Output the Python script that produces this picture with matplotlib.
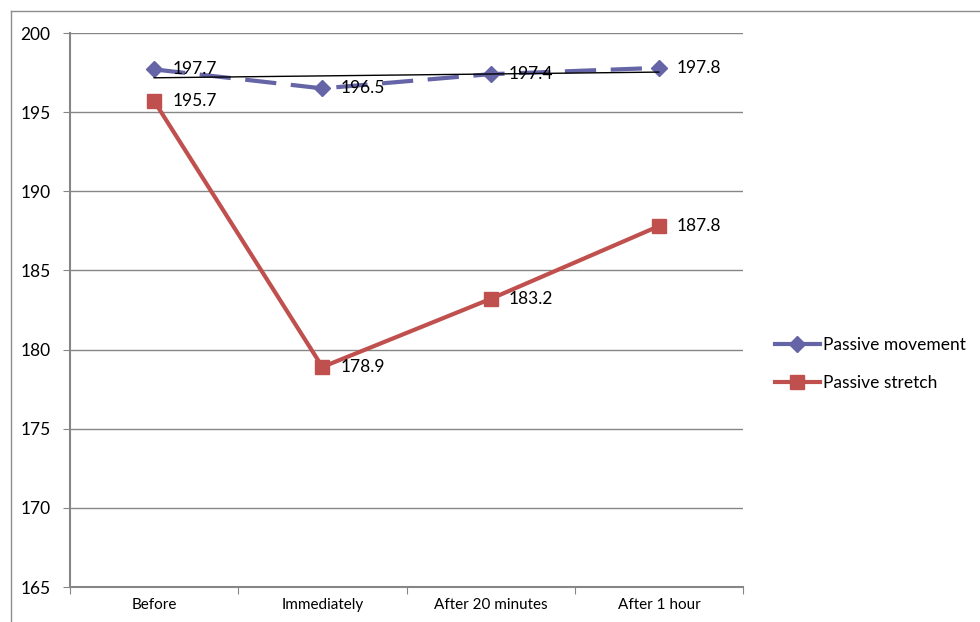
import numpy as np
import matplotlib
matplotlib.use("Agg")
import matplotlib.pyplot as plt
from matplotlib.lines import Line2D

plt.rcParams['font.family'] = ['Lato', 'DejaVu Sans']

categories = ["Before", "Immediately", "After 20 minutes", "After 1 hour"]
passive_movement = [197.7, 196.5, 197.4, 197.8]
passive_stretch = [195.7, 178.9, 183.2, 187.8]
y_ticks = [165, 170, 175, 180, 185, 190, 195, 200]

grid_col = "#868686"
move_col = "#6464A6"
stretch_col = "#C0504D"

fig = plt.figure(figsize=(9.8, 6.22), dpi=100)
ax = fig.add_axes([70 / 980, 1 - 587 / 622, (743 - 70) / 980, (587 - 33) / 622])

x = np.arange(len(categories))

ax.plot(x, passive_movement, color=move_col, lw=3, dashes=(7.5, 3.5),
        marker='D', markersize=8, markeredgecolor=move_col, zorder=3,
        label="Passive movement")
ax.plot(x, passive_stretch, color=stretch_col, lw=3,
        marker='s', markersize=10, markeredgecolor=stretch_col, zorder=3,
        label="Passive stretch")

# linear trend of the passive movement series
coef = np.polyfit(x, passive_movement, 1)
ax.plot(x, np.polyval(coef, x), color="black", lw=1, zorder=4)

for xi, v in zip(x, passive_movement):
    ax.annotate(f"{v:.1f}", (xi, v), xytext=(13, 0), textcoords="offset points",
                va="center", ha="left", fontsize=12.5, zorder=5)
for xi, v in zip(x, passive_stretch):
    ax.annotate(f"{v:.1f}", (xi, v), xytext=(13, 0), textcoords="offset points",
                va="center", ha="left", fontsize=12.5, zorder=5)

ax.set_xlim(-0.5, len(categories) - 0.5)
ax.set_ylim(165, 200)
ax.set_yticks(y_ticks)
ax.set_yticklabels([str(t) for t in y_ticks], fontsize=12.5)
ax.set_xticks(np.arange(-0.5, len(categories)), minor=False)
ax.set_xticklabels([])
ax.set_xticks(x, minor=True)
ax.set_xticklabels(categories, minor=True, fontsize=11)
ax.tick_params(axis='x', which='minor', length=0, pad=8)
ax.tick_params(axis='x', which='major', length=5, color=grid_col, direction='out')
ax.tick_params(axis='y', length=5, color=grid_col, direction='out', pad=9)

ax.yaxis.grid(True, color=grid_col, lw=1)
ax.set_axisbelow(True)
for s in ['top', 'right']:
    ax.spines[s].set_visible(False)
for s in ['left', 'bottom']:
    ax.spines[s].set_color(grid_col)
    ax.spines[s].set_linewidth(1.5)

handles = [
    Line2D([], [], color=move_col, lw=3, marker='D', markersize=8, markeredgecolor=move_col),
    Line2D([], [], color=stretch_col, lw=3, marker='s', markersize=10, markeredgecolor=stretch_col),
]
fig.legend(handles, ["Passive movement", "Passive stretch"],
           loc="center left", bbox_to_anchor=(766 / 980, 1 - 364 / 622),
           frameon=False, fontsize=12.5, handlelength=2.6, handletextpad=0.2,
           labelspacing=1.3, borderpad=0)

# outer chart-area frame
fig.add_artist(Line2D([11 / 980, 1], [1 - 11 / 622, 1 - 11 / 622],
                      transform=fig.transFigure, color="#8c8c8c", lw=1))
fig.add_artist(Line2D([11 / 980, 11 / 980], [0, 1 - 11 / 622],
                      transform=fig.transFigure, color="#8c8c8c", lw=1))

fig.savefig("out.png", dpi=100)
